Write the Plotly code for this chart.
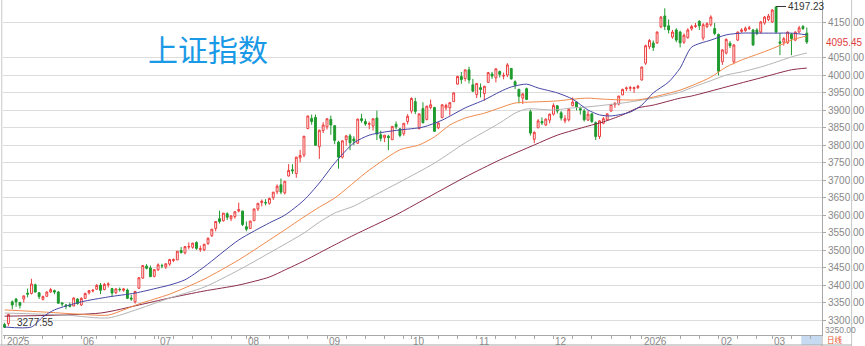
import plotly.graph_objects as go

# ---------------- data ----------------
opens = [3287,3290,3352,3360,3350,3360,3377,3376,3401,3378,3359,3368,3380,3384,3380,3349,3343,3343,3340,3360,
         3343,3362,3378,3383,3388,3400,3387,3401,3390,3378,3388,3385,3386,3363,3352,3391,3420,3454,3449,3425,
         3444,3456,3452,3460,3470,3472,3499,3492,3509,3508,3522,3502,3501,3519,3541,3562,3590,3584,3604,3590,
         3596,3612,3612,3567,3562,3584,3618,3636,3636,3634,3650,3667,3687,3664,3712,3730,3719,3764,3772,3848,
         3877,3880,3796,3842,3853,3874,3856,3809,3766,3816,3827,3818,3806,3876,3868,3860,3855,3878,3830,3822,
         3826,3816,3860,3847,3833,3868,3898,3925,3848,3905,3874,3908,3908,3850,3879,3907,3907,3925,3975,3997,
         3991,4016,3973,3945,3965,3948,3980,4004,3993,4011,3998,4001,4020,3982,3960,3935,3962,3896,3817,3850,
         3868,3858,3872,3889,3913,3893,3870,3873,3913,3924,3905,3898,3872,3890,3865,3825,3863,3873,3898,3916,
         3918,3944,3962,3963,3962,3965,3987,4035,4082,4093,4093,4139,4170,4142,4110,4130,4124,4095,4108,4133,
         4140,4155,4107,4140,4145,4134,4117,4039,4064,4092,4039,4101,4126,4128,4134,4130,4130,4124,4150,4160,
         4153,4196,4096,4095,4093,4118,4101,4124,4140,4121]
highs = [3292,3318,3356,3363,3352,3370,3390,3418,3404,3380,3370,3382,3392,3387,3383,3351,3346,3350,3365,3362,
         3365,3378,3386,3389,3403,3406,3406,3408,3392,3391,3393,3392,3390,3372,3383,3423,3456,3460,3456,3446,
         3462,3461,3462,3475,3476,3497,3509,3512,3522,3521,3525,3513,3517,3536,3560,3582,3613,3606,3608,3600,
         3610,3636,3612,3582,3584,3618,3634,3645,3646,3650,3666,3688,3705,3697,3746,3746,3767,3787,3826,3884,
         3888,3888,3845,3866,3876,3885,3858,3813,3813,3829,3833,3826,3876,3890,3876,3868,3876,3899,3842,3829,
         3830,3854,3868,3849,3863,3889,3937,3936,3890,3923,3913,3931,3910,3866,3917,3919,3923,3951,3999,4010,
         4016,4025,3990,3977,3977,3970,4010,4010,4019,4014,4008,4035,4021,3986,3962,3950,3965,3902,3840,3875,
         3880,3877,3891,3920,3915,3898,3886,3907,3937,3925,3911,3904,3898,3891,3868,3872,3881,3891,3918,3924,
         3941,3962,3968,3970,3968,3973,4025,4088,4104,4100,4126,4170,4192,4160,4130,4135,4128,4120,4135,4145,
         4150,4158,4150,4152,4172,4150,4120,4075,4106,4098,4090,4126,4135,4140,4142,4133,4135,4156,4170,4176,
         4190,4197.23,4121,4110,4126,4121,4126,4142,4144,4137]
lows = [3277.55,3283,3331,3338,3333,3350,3365,3373,3379,3360,3356,3366,3378,3374,3347,3339,3331,3336,3340,3344,
        3340,3360,3373,3379,3386,3374,3385,3393,3368,3374,3381,3381,3360,3355,3347,3389,3418,3445,3423,3422,
        3440,3448,3446,3455,3466,3472,3490,3488,3502,3504,3501,3495,3497,3515,3538,3554,3576,3582,3586,3583,
        3590,3608,3569,3554,3561,3584,3612,3625,3628,3630,3644,3660,3660,3659,3711,3718,3707,3751,3766,3846,
        3859,3800,3761,3835,3845,3830,3803,3733,3762,3799,3786,3800,3804,3865,3856,3846,3842,3815,3811,3809,
        3786,3815,3846,3823,3827,3860,3891,3889,3845,3862,3871,3903,3838,3846,3879,3900,3885,3924,3974,3976,
        3983,3977,3952,3935,3937,3928,3980,3990,3980,3994,3989,3995,3988,3961,3920,3918,3930,3828,3806,3849,
        3858,3855,3863,3885,3891,3871,3863,3868,3912,3900,3888,3868,3870,3864,3815,3818,3860,3870,3896,3907,
        3914,3944,3955,3955,3950,3961,3985,4030,4075,4070,4090,4135,4130,4120,4105,4095,4080,4090,4105,4128,
        4136,4130,4100,4135,4140,4115,4000,4030,4060,4078,4032,4098,4122,4125,4130,4085,4115,4120,4145,4155,
        4150,4120,4058,4085,4090,4058,4098,4122,4130,4090]
closes = [3279,3316,3343,3352,3342,3369,3374,3403,3380,3367,3367,3380,3387,3380,3348,3346,3340,3339,3363,3347,
          3362,3376,3384,3385,3399,3385,3402,3403,3377,3389,3387,3389,3362,3360,3382,3421,3456,3448,3424,3444,
          3458,3455,3461,3473,3473,3497,3493,3510,3510,3520,3505,3504,3517,3534,3560,3582,3582,3606,3594,3598,
          3610,3616,3573,3560,3583,3618,3634,3640,3635,3648,3666,3683,3666,3697,3728,3727,3766,3771,3826,3884,
          3868,3800,3843,3858,3876,3858,3814,3766,3813,3827,3807,3812,3875,3871,3861,3862,3876,3832,3820,3829,
          3822,3854,3853,3828,3863,3883,3934,3897,3890,3865,3912,3916,3840,3864,3916,3914,3922,3950,3997,3988,
          4016,3987,3955,3977,3960,3969,4008,3998,4019,4003,4000,4030,3990,3972,3940,3947,3931,3835,3837,3870,
          3864,3875,3889,3914,3898,3878,3876,3903,3924,3910,3901,3873,3889,3868,3825,3870,3876,3890,3917,3920,
          3941,3960,3964,3965,3965,3969,4024,4085,4100,4080,4124,4167,4140,4130,4124,4101,4093,4115,4130,4140,
          4142,4142,4145,4148,4167,4120,4012,4073,4103,4085,4087,4124,4130,4135,4136,4087,4120,4153,4167,4170,
          4187,4124,4092,4105,4124,4105,4124,4136,4134,4095.45]

ma_blue_idx = [0,7,10,13,20,27,34,40,43,47,52,61,69,73,78,82,86,91,95,99,103,109,114,120,125,129,132,136,
               139,144,148,152,155,158,163,166,169,173,176,179,184,188,192,197,201,205,209]
ma_blue_val = [3280,3280,3309,3329,3352,3366,3377,3392,3400,3415,3452,3529,3578,3600,3643,3692,3749,3807,3829,
               3838,3844,3852,3872,3907,3930,3953,3967,3975,3964,3950,3932,3901,3887,3884,3895,3915,3950,3981,
               4021,4081,4101,4116,4121,4121,4121,4121,4116]

ma_orange_idx = [0,10,19,27,31,35,43,52,61,69,73,78,82,86,95,103,108,112,116,120,125,129,133,138,144,148,
                 152,156,161,165,169,176,180,184,188,192,197,201,205,209]
ma_orange_val = [3329,3323,3317,3314,3329,3346,3374,3417,3472,3529,3558,3595,3623,3649,3729,3787,3801,3824,
                 3858,3878,3892,3907,3921,3924,3927,3932,3935,3932,3930,3930,3938,3958,3975,3995,4024,4044,
                 4064,4081,4101,4113]

ma_gray_idx = [0,16,27,35,43,52,61,69,78,82,86,91,95,103,112,120,129,133,136,143,148,152,161,169,176,179,
               184,188,192,197,201,205,209]
ma_gray_val = [3320,3314,3306,3332,3363,3394,3443,3492,3549,3580,3606,3626,3649,3695,3749,3807,3864,3892,3904,
               3901,3907,3910,3921,3935,3952,3965,3985,4001,4010,4024,4038,4053,4064]

ma_red_idx = [0,25,35,43,52,61,69,73,78,82,86,91,102,109,120,129,138,144,152,156,161,165,169,176,179,188,
              197,205,209]
ma_red_val = [3311,3320,3343,3363,3383,3400,3423,3443,3469,3492,3515,3543,3601,3643,3709,3758,3801,3829,3855,
              3867,3887,3907,3915,3935,3941,3967,3993,4016,4021]

month_pos = [0, 20, 40, 63, 84, 106, 123, 143, 166, 186, 200]
month_labels = ["2025", "06", "07", "08", "09", "10", "11", "12", "2026", "02", "03"]
week_ticks = [0, 5, 10, 15, 20, 24, 29, 34, 39, 40, 44, 49, 54, 59, 63, 64, 69, 74, 79, 84, 89, 94, 99, 104,
              106, 108, 113, 118, 123, 128, 133, 138, 143, 148, 153, 158, 163, 166, 171, 176, 181, 186, 191,
              196, 200, 205, 210]
y_ticks = [3300, 3350, 3400, 3450, 3500, 3550, 3600, 3650, 3700, 3750, 3800, 3850, 3900, 3950, 4000,
           4050, 4150]
last_price = 4095.45
max_price = 4197.23
min_price = 3277.55

x = list(range(len(closes)))

fig = go.Figure()
fig.add_trace(go.Candlestick(
    x=x, open=opens, high=highs, low=lows, close=closes,
    increasing=dict(line=dict(color="#ec3c3c", width=1), fillcolor="#ffffff"),
    decreasing=dict(line=dict(color="#1f9a2e", width=1), fillcolor="#1f9a2e"),
    whiskerwidth=0, hoverinfo="skip", showlegend=False))

for xs, ys, col in [(ma_red_idx, ma_red_val, "#8c2c48"),
                    (ma_gray_idx, ma_gray_val, "#b4b4b4"),
                    (ma_orange_idx, ma_orange_val, "#f0894a"),
                    (ma_blue_idx, ma_blue_val, "#4646a6")]:
    fig.add_trace(go.Scatter(x=xs, y=ys, mode="lines",
                             line=dict(color=col, width=1, shape="spline", smoothing=0.7),
                             hoverinfo="skip", showlegend=False))

# plot area: x px 3..833, y px 0..335
fig.update_layout(
    width=865, height=346,
    margin=dict(l=3, r=32, t=0, b=11),
    paper_bgcolor="white", plot_bgcolor="white",
    showlegend=False,
    font=dict(family="Liberation Sans, Arial, sans-serif", size=10, color="#888888"),
    xaxis=dict(range=[-0.41, 212.96], showgrid=False, zeroline=False,
               showline=True, linecolor="#a8a8a8", linewidth=1,
               ticks="outside", ticklen=3, tickcolor="#a8a8a8",
               tickvals=week_ticks, showticklabels=False,
               rangeslider=dict(visible=False), fixedrange=True),
    yaxis=dict(side="right", range=[3257.1, 4215.8], zeroline=False,
               showgrid=True, gridcolor="#dcdcdc", gridwidth=1,
               showline=True, linecolor="#a8a8a8", linewidth=1,
               ticks="outside", ticklen=3, tickcolor="#a8a8a8",
               tickvals=y_ticks, ticktext=["%.2f" % v for v in y_ticks],
               tickfont=dict(size=10, color="#888888"), fixedrange=True),
)

ann = []
ann.append(dict(text="上证指数", xref="paper", yref="paper", x=(148 - 3) / 830, y=1 - 48 / 335,
                xanchor="left", yanchor="middle", showarrow=False,
                font=dict(family="Noto Sans CJK SC", size=30, color="#1a9ae6")))
for p, t in zip(month_pos, month_labels):
    ann.append(dict(text=t, xref="x", yref="paper", x=p, y=0, xanchor="left", yanchor="top",
                    xshift=0, yshift=1, showarrow=False, font=dict(size=10, color="#8a8a8a")))
ann.append(dict(text="%.2f" % last_price, xref="paper", yref="y", x=1, y=last_price, xanchor="left",
                xshift=2, showarrow=False, font=dict(size=10, color="#e03c3c")))
ann.append(dict(text="3250.00", xref="paper", yref="paper", x=1, y=1 - 329.5 / 335, xanchor="left",
                yanchor="middle", xshift=2, borderpad=0, showarrow=False,
                font=dict(size=8.5, color="#888888")))
ann.append(dict(text="日线", xref="paper", yref="paper", x=1, y=-11 / 335, xanchor="left", yanchor="bottom",
                xshift=4, yshift=0, borderpad=0, showarrow=False,
                font=dict(family="Noto Sans CJK SC", size=7.5, color="#e8502a")))
ann.append(dict(text="%.2f" % max_price, xref="x", yref="y", x=203.6, y=max_price, xanchor="left",
                showarrow=False, font=dict(size=10, color="#333333")))
ann.append(dict(text="%.2f" % min_price, xref="x", yref="y", x=2.6, y=3294, xanchor="left",
                showarrow=False, font=dict(size=10, color="#333333")))
fig.update_layout(annotations=ann)

shapes = [
    dict(type="line", xref="x", yref="y", x0=201, x1=203.6, y0=max_price, y1=max_price,
         line=dict(color="#333333", width=1)),
    dict(type="line", xref="paper", yref="paper", x0=-0.0015, x1=-0.0015, y0=-0.03, y1=1,
         line=dict(color="#c8c8c8", width=1)),
    dict(type="line", xref="paper", yref="paper", x0=1, x1=1, y0=-0.033, y1=0,
         line=dict(color="#a8a8a8", width=1)),
    dict(type="line", xref="paper", yref="paper", x0=(863 - 3) / 830, x1=(863 - 3) / 830, y0=-0.033, y1=1,
         line=dict(color="#c8c8c8", width=1)),
    dict(type="line", xref="paper", yref="paper", x0=-0.0036, x1=(863 - 3) / 830, y0=-10 / 335, y1=-10 / 335,
         line=dict(color="#a8a8a8", width=1)),
    dict(type="rect", xref="paper", yref="paper", x0=(812 - 3) / 830, x1=(832 - 3) / 830,
         y0=-10 / 335, y1=-1 / 335, fillcolor="#c6dbf2", line=dict(width=0), layer="below"),
]
fig.update_layout(shapes=shapes)

fig.write_html("out.html")
